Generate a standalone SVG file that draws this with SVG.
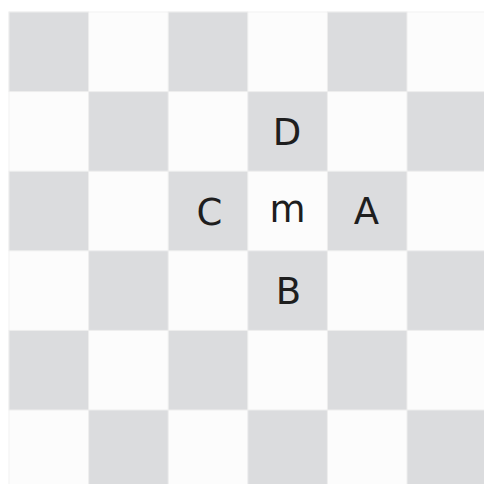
<svg xmlns="http://www.w3.org/2000/svg" width="484" height="484" viewBox="0 0 484 484">
<style>
.lt{fill:#fcfcfc;stroke:#f2f2f2;stroke-width:1}
.dk{fill:#dbdcde;stroke:#eeeeee;stroke-width:1}
.lb{font-family:"DejaVu Sans",sans-serif;font-size:37px;fill:#1e1e1e;text-anchor:middle}
</style>
<rect width="484" height="484" fill="#ffffff"/>
<g id="board">
<rect class="lt" x="9" y="12" width="478" height="478"/>
<rect class="dk" x="9" y="12" width="79.6" height="79.6"/>
<rect class="dk" x="168.2" y="12" width="79.6" height="79.6"/>
<rect class="dk" x="327.4" y="12" width="79.6" height="79.6"/>
<rect class="dk" x="88.6" y="91.6" width="79.6" height="79.6"/>
<rect class="dk" x="247.8" y="91.6" width="79.6" height="79.6"/>
<rect class="dk" x="407" y="91.6" width="79.6" height="79.6"/>
<rect class="dk" x="9" y="171.2" width="79.6" height="79.6"/>
<rect class="dk" x="168.2" y="171.2" width="79.6" height="79.6"/>
<rect class="dk" x="327.4" y="171.2" width="79.6" height="79.6"/>
<rect class="dk" x="88.6" y="250.8" width="79.6" height="79.6"/>
<rect class="dk" x="247.8" y="250.8" width="79.6" height="79.6"/>
<rect class="dk" x="407" y="250.8" width="79.6" height="79.6"/>
<rect class="dk" x="9" y="330.4" width="79.6" height="79.6"/>
<rect class="dk" x="168.2" y="330.4" width="79.6" height="79.6"/>
<rect class="dk" x="327.4" y="330.4" width="79.6" height="79.6"/>
<rect class="dk" x="88.6" y="410" width="79.6" height="79.6"/>
<rect class="dk" x="247.8" y="410" width="79.6" height="79.6"/>
<rect class="dk" x="407" y="410" width="79.6" height="79.6"/>
</g>
<g id="connectors"></g>
<g id="node-D"><text class="lb" x="287" y="145">D</text></g>
<g id="node-C"><text class="lb" x="209.5" y="225">C</text></g>
<g id="node-m"><text class="lb" x="287.5" y="222">m</text></g>
<g id="node-A"><text class="lb" x="366.5" y="224">A</text></g>
<g id="node-B"><text class="lb" x="288.5" y="304">B</text></g>
</svg>
